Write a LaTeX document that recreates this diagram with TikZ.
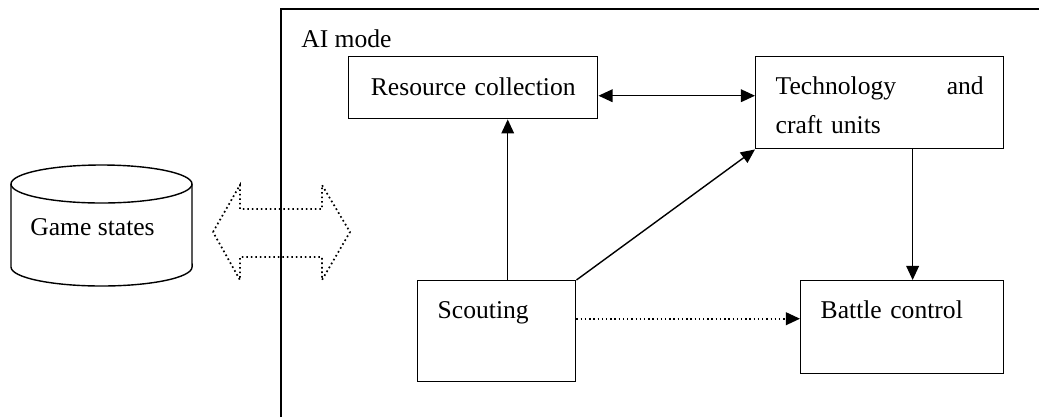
\documentclass[tikz,border=0pt]{standalone}
\usepackage{fontspec}
\setmainfont{Liberation Serif}
\usetikzlibrary{arrows.meta}
\tikzset{
  box/.style={draw, line width=1pt, anchor=north west, inner xsep=0.5cm, inner ysep=0pt, align=left, font=\fontsize{18.2}{27.7}\selectfont},
  link/.style={line width=1pt, -{Triangle[length=10pt,width=9pt]}},
  txt/.style={font=\fontsize{18.2}{27.7}\selectfont, inner sep=0pt}
}

\begin{document}
\begin{tikzpicture}[x=0.025cm, y=-0.025cm]
    \useasboundingbox (0,0) rectangle (1039,417);

    % AI mode frame
    \draw[line width=1pt] (281,417) -- (281,9) -- (1039,9);
    \node[txt, anchor=base west] (mode) at (301,47) {AI mode};

    % modules
    \node[box, align=center, text width=5.225cm, text height=0.975cm, text depth=0.575cm] (res) at (348,56) {Resource collection};
    \node[box, text width=5.2cm, text height=0.95cm, text depth=1.35cm] (tech) at (755,56) {Technology\hfill and\\craft units};
    \node[box, text width=2.95cm, text height=0.95cm, text depth=1.575cm] (scout) at (417,280) {Scouting};
    \node[box, text width=4.075cm, text height=0.95cm, text depth=1.375cm] (battle) at (800,280) {Battle control};

    % game state store
    \draw[line width=1pt] (11,184) -- (11,267) arc[start angle=180, end angle=360, x radius=2.2625cm, y radius=0.475cm] -- (192,184);
    \draw[line width=1pt] (101.5,184) ellipse [x radius=2.2625cm, y radius=0.475cm];
    \node[txt, anchor=base] (states) at (92.5,235) {Game states};

    % exchange with the game
    \draw[dotted, line width=1.2pt] (213,232) -- (240,185) -- (240,209) -- (322,209) -- (322,185) -- (350,232)
        -- (322,280) -- (322,257) -- (240,257) -- (240,280) -- cycle;

    % links between modules
    \draw[link, {Triangle[length=10pt,width=9pt]}-{Triangle[length=10pt,width=9pt]}] (res.base east) -- (res.base east -| tech.west);
    \draw[link] ([xshift=0.275cm]scout.north) -- ([xshift=0.275cm]scout.north |- res.south);
    \draw[link] (scout.north east) -- (tech.south west);
    \draw[link] ([xshift=0.26cm]battle.north |- tech.south) -- ([xshift=0.26cm]battle.north);
    \draw[link, dotted, line width=1.2pt] (scout.base east) -- (scout.base east -| battle.west);
\end{tikzpicture}
\end{document}
